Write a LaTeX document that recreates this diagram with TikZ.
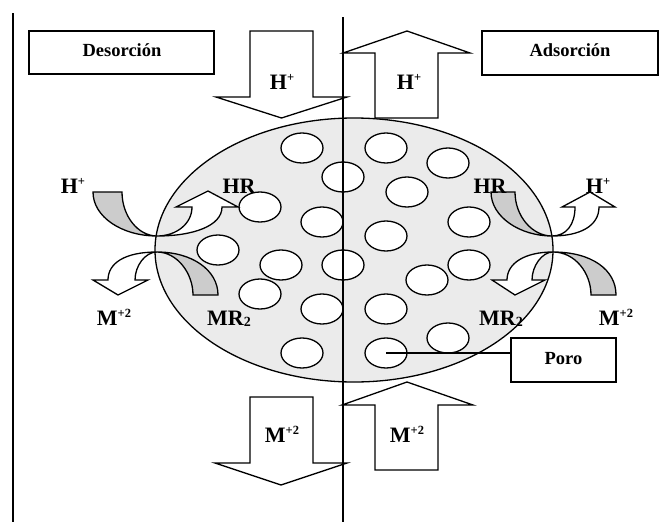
\documentclass[tikz,border=0pt]{standalone}
\usepackage{fontspec}
\setmainfont{Liberation Serif}
\usetikzlibrary{shapes.geometric}
\newcommand\supx[1]{\raisebox{7.5pt}{\fontsize{12.5}{13}\selectfont #1}}
\newcommand\subx[1]{\raisebox{-1.5pt}{\fontsize{14}{14}\selectfont #1}}
\begin{document}
\begin{tikzpicture}[x=1pt,y=-1pt,line join=miter,
  outl/.style={draw=black,line width=1.3pt},
  blockarrow/.style={outl,fill=white},
  band/.style={outl,fill=black!20},
  whitecurve/.style={outl,fill=white},
  pore/.style={ellipse,draw=black,line width=1.3pt,fill=white,minimum width=42pt,minimum height=30pt,inner sep=0pt},
  box/.style={draw=black,line width=1.3pt,fill=white,inner sep=0pt},
  lab/.style={font=\fontsize{22}{24}\selectfont\bfseries,anchor=base,inner sep=0pt},
  boxlab/.style={font=\fontsize{18.5}{20}\selectfont\bfseries,anchor=base,inner sep=0pt}]
\useasboundingbox (0,0) rectangle (668,522);

% resin bead
\node[ellipse,draw=black,line width=1.3pt,fill=black!8,minimum width=398pt,minimum height=264pt,inner sep=0pt] (bead) at (354,250) {};

% pores
\foreach \n/\x/\y in {1/302/148,2/386/148,3/448/163,4/343/177,5/407/192,6/260/207,7/322/222,8/469/222,9/386/236,10/218/250,11/281/265,12/343/265,13/469/265,14/427/280,15/260/294,16/322/309,17/386/309,18/448/338,19/302/353,20/386/353}
  \node[pore] (p\n) at (\x,\y) {};

% left curved arrows
\draw[band] (93,192) -- (122,192) .. controls (122,216) and (138,236) .. (157,236) .. controls (122,236) and (93,217) .. (93,192) -- cycle;
\draw[whitecurve] (157,236) .. controls (193,236) and (222,226) .. (222,207) -- (238,207) -- (208,191) -- (176,207) -- (192,207) .. controls (192,224) and (176,236) .. (157,236) -- cycle;
\draw[whitecurve] (157,252) .. controls (125,252) and (108,263) .. (108,280) -- (93,280) -- (118,295) -- (148,280) -- (135,280) .. controls (135,266) and (145,252) .. (157,252) -- cycle;
\draw[band] (157,252) .. controls (192,252) and (218,270) .. (218,295) -- (193,295) .. controls (193,273) and (177,252) .. (157,252) -- cycle;

% right curved arrows
\draw[band] (491,192) -- (515,192) .. controls (515,216) and (532,236) .. (552,236) .. controls (520,236) and (491,217) .. (491,192) -- cycle;
\draw[whitecurve] (552,236) .. controls (580,236) and (599,226) .. (599,207) -- (615,207) -- (590,192) -- (562,207) -- (575,207) .. controls (575,225) and (566,236) .. (552,236) -- cycle;
\draw[band] (553,252) .. controls (592,252) and (616,270) .. (616,295) -- (591,295) .. controls (591,273) and (575,252) .. (553,252) -- cycle;
\draw[whitecurve] (553,252) .. controls (525,252) and (507,263) .. (507,280) -- (492,280) -- (515,295) -- (545,280) -- (532,280) .. controls (532,266) and (542,252) .. (553,252) -- cycle;

% block arrows
\draw[blockarrow] (250,31) -- (313,31) -- (313,97) -- (347,97) -- (281.5,118) -- (216,97) -- (250,97) -- cycle;
\draw[blockarrow] (375,118) -- (375,53) -- (343,53) -- (407,31) -- (470,53) -- (438,53) -- (438,118) -- cycle;
\draw[blockarrow] (250,397) -- (313,397) -- (313,463) -- (347,463) -- (281,485) -- (215,463) -- (250,463) -- cycle;
\draw[blockarrow] (375,470) -- (375,405) -- (342,405) -- (407,382) -- (473,405) -- (438,405) -- (438,470) -- cycle;

% boxes
\node[box,minimum width=185pt,minimum height=43pt] (desbox) at (121.5,52.5) {};
\node[box,minimum width=176pt,minimum height=44pt] (adsbox) at (570,53) {};
\node[box,minimum width=105pt,minimum height=44pt] (porobox) at (563.5,360) {};
\node[boxlab] (destext) at (122,56) {Desorción};
\node[boxlab] (adstext) at (570,56) {Adsorción};
\node[boxlab] (porotext) at (563.5,364) {Poro};

% pore connector
\draw[line width=1.3pt] (p20.center) -- (p20.center -| porobox.west);

% dividing lines
\coordinate (l1top) at (13,13);
\coordinate (l1bot) at (13,522);
\coordinate (l2top) at (343,17);
\coordinate (l2bot) at (343,522);
\draw[line width=1.3pt] (l1top) -- (l1bot);
\draw[line width=1.3pt] (l2top) -- (l2bot);

% labels
\node[lab] (hdown) at (282,89) {H\supx{+}};
\node[lab] (hup) at (409,89) {H\supx{+}};
\node[lab] (hleft) at (73,193) {H\supx{+}};
\node[lab] (hrleft) at (239,193) {HR};
\node[lab] (mleft) at (114,325) {M\supx{+2}};
\node[lab] (mrleft) at (229,325) {MR\subx{2}};
\node[lab] (hrright) at (490,193) {HR};
\node[lab] (hright) at (598,193) {H\supx{+}};
\node[lab] (mrright) at (501,325) {MR\subx{2}};
\node[lab] (mright) at (616,325) {M\supx{+2}};
\node[lab] (mdown) at (282,442) {M\supx{+2}};
\node[lab] (mup) at (407,442) {M\supx{+2}};
\end{tikzpicture}
\end{document}
